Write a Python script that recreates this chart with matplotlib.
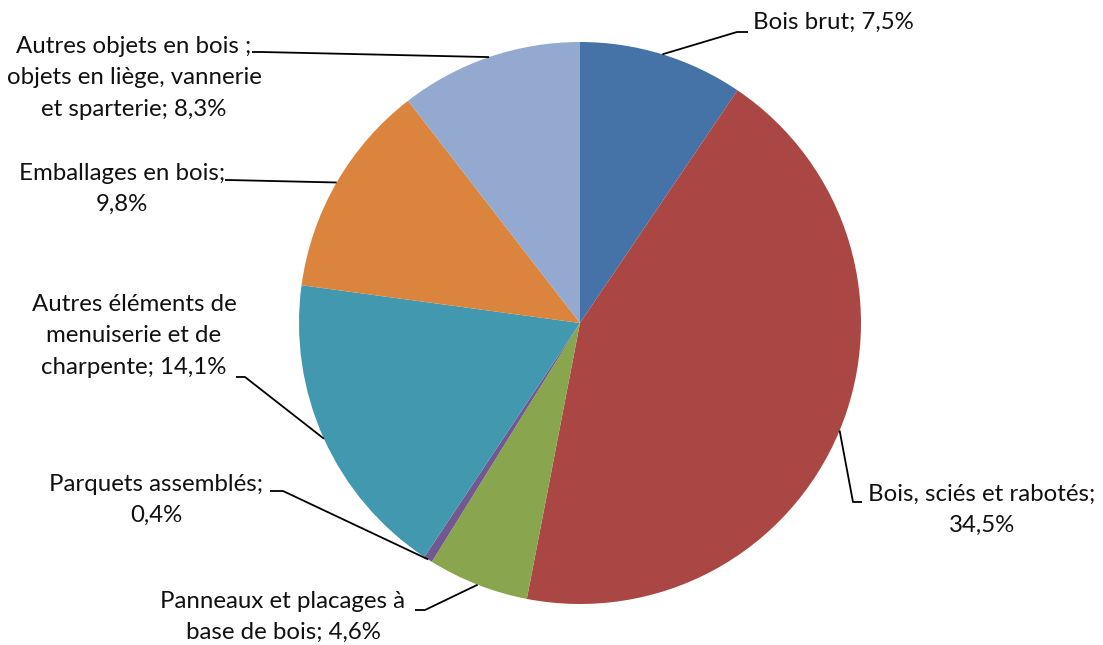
import numpy as np
import matplotlib
matplotlib.use("Agg")
import matplotlib.pyplot as plt

categories = ["Bois brut", "Bois, sciés et rabotés", "Panneaux et placages à base de bois",
              "Parquets assemblés", "Autres éléments de menuiserie et de charpente",
              "Emballages en bois", "Autres objets en bois ; objets en liège, vannerie et sparterie"]
values = [7.5, 34.5, 4.6, 0.4, 14.1, 9.8, 8.3]
labels = ["Bois brut; 7,5%",
          "Bois, sciés et rabotés;\n34,5%",
          "Panneaux et placages à\nbase de bois; 4,6%",
          "Parquets assemblés;\n0,4%",
          "Autres éléments de\nmenuiserie et de\ncharpente; 14,1%",
          "Emballages en bois;\n9,8%",
          "Autres objets en bois ;\nobjets en liège, vannerie\net sparterie; 8,3%"]
colors = ["#4572A7", "#AA4643", "#89A54E", "#71588F", "#4198AF", "#DB843D", "#93A9CF"]

W, H = 1103, 645
fig = plt.figure(figsize=(W / 100, H / 100), dpi=100)
ax = fig.add_axes([0, 0, 1, 1])

cx, cy, R = 580, H - 323, 281
wedges, _ = ax.pie(values, colors=colors, startangle=90, counterclock=False,
                   center=(cx, cy), radius=R, wedgeprops=dict(linewidth=0), frame=True)
ax.set_xlim(0, W)
ax.set_ylim(0, H)
ax.set_aspect("equal")
ax.axis("off")

# layout: (text x, text y of block center, elbow point, end point, ha)
layout = [
    (753, 22, (737, 32), (748, 32), "left"),
    (982, 510, (853, 502), (862, 502), None),
    (283, 617, (425, 610), (415, 610), None),
    (156, 500, (283, 491), (270, 491), None),
    (134, 336, (245, 377), (236, 377), None),
    (122, 189, (228, 180), (225, 180), None),
    (134, 78, (262, 52), (252, 52), None),
]

font = ["Lato", "DejaVu Sans"]
for w, lab, (tx, ty, elbow, end, ha) in zip(wedges, labels, layout):
    ang = np.deg2rad((w.theta1 + w.theta2) / 2)
    sx, sy = cx + R * np.cos(ang), cy + R * np.sin(ang)
    ax.plot([sx, elbow[0], end[0]], [sy, H - elbow[1], H - end[1]], color="black", lw=1.3,
            solid_capstyle="butt")
    ax.text(tx, H - ty, lab, ha=ha or "center", va="center", fontsize=17.3,
            family=font, linespacing=1.6, multialignment="center", color="#111111")

fig.savefig("out.png", dpi=100)
